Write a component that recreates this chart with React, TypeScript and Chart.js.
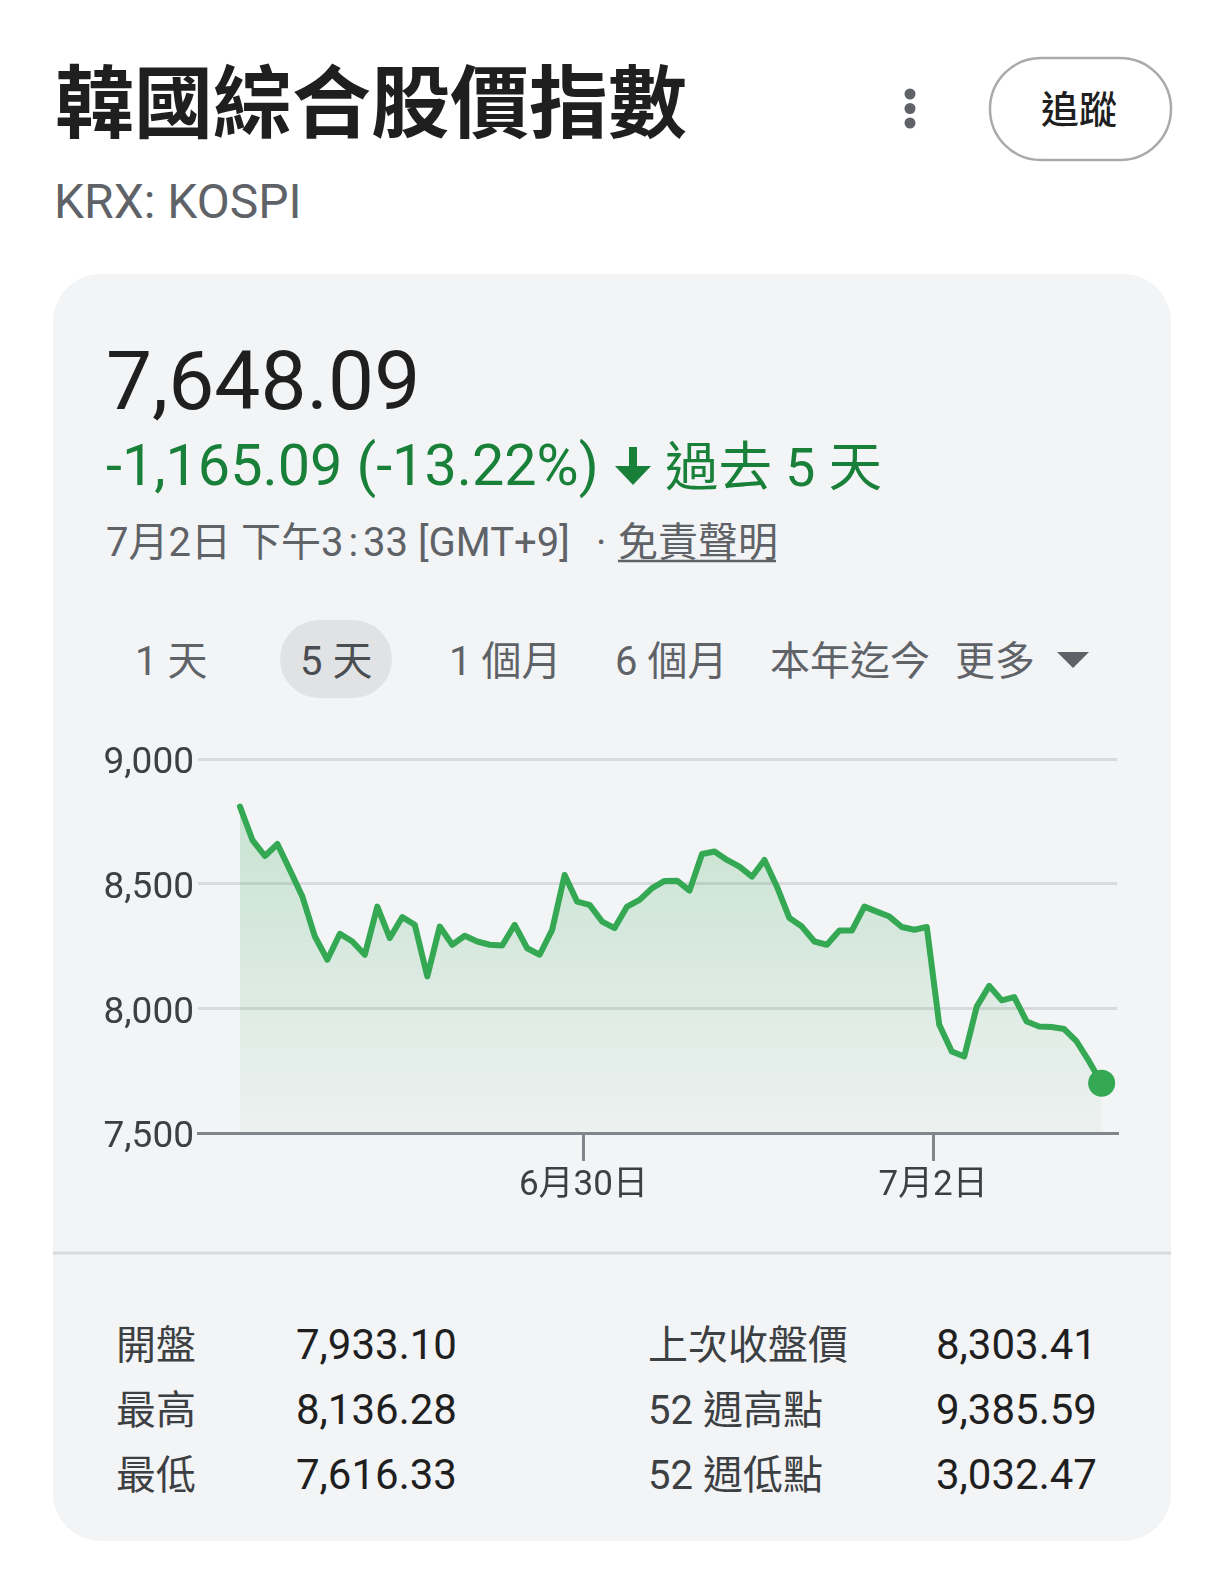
import React, { useEffect, useRef } from 'react';
import { Chart, registerables } from 'chart.js';

Chart.register(...registerables);

// ---- data ----
const TITLE = '韓國綜合股價指數';
const SYMBOL = 'KRX: KOSPI';
const FOLLOW_LABEL = '追蹤';
const PRICE = '7,648.09';
const CHANGE = '-1,165.09 (-13.22%)';
const CHANGE_PERIOD = '過去 5 天';
const TIME_DATE = '7月2日 下午3';
const TIME_MIN = '33 [GMT+9]';
const DISCLAIMER = '免責聲明';
const RANGE_TABS = ['1 天', '5 天', '1 個月', '6 個月', '本年迄今', '更多'];
const SELECTED_TAB = 1;

// 30-minute closes over five sessions (6/26, 6/29, 6/30, 7/1, 7/2)
const PRICES = [
  8809, 8675, 8611, 8659, 8555, 8448, 8288, 8195, 8299, 8268,
  8215, 8408, 8282, 8366, 8335, 8128, 8328, 8255, 8291, 8268,
  8255, 8252, 8335, 8241, 8215, 8315, 8535, 8428, 8415, 8348,
  8322, 8408, 8435, 8482, 8511, 8512, 8472, 8619, 8629, 8595,
  8568, 8528, 8595, 8488, 8362, 8328, 8268, 8255, 8312, 8312,
  8408, 8388, 8368, 8326, 8315, 8326, 7934, 7827, 7807, 8007,
  8090, 8032, 8045, 7947, 7927, 7925, 7917, 7867, 7787, 7700,
];
const X_TICK_POS = [27.5, 55.5];
const X_TICK_LABELS = ['6月30日', '7月2日'];
const Y_MIN = 7500;
const Y_MAX = 9000;
const Y_STEP = 500;

const STAT_LABELS_LEFT = ['開盤', '最高', '最低'];
const STAT_VALUES_LEFT = ['7,933.10', '8,136.28', '7,616.33'];
const STAT_LABELS_RIGHT = ['上次收盤價', '52 週高點', '52 週低點'];
const STAT_VALUES_RIGHT = ['8,303.41', '9,385.59', '3,032.47'];

// ---- styling ----
const FONT = "Roboto, 'Noto Sans CJK TC', sans-serif";
const CJK = "'Noto Sans CJK TC', Roboto, sans-serif";
const GREEN_LINE = '#34a853';
const GREEN_TEXT = '#188038';
const X_MIN = -3.36;
const X_MAX = 70.23;

const TAB_X = [135, 300, 449, 615, 770, 955];
const STAT_BASELINES = [1359, 1424, 1489];

export default function App() {
  const ref = useRef<HTMLCanvasElement>(null);

  useEffect(() => {
    const canvas = ref.current;
    if (!canvas) return;
    const ctx = canvas.getContext('2d');
    if (!ctx) return;
    const last = PRICES.length - 1;
    const chart = new Chart(ctx, {
      type: 'line',
      data: {
        datasets: [
          {
            data: PRICES.map((y, i) => ({ x: i, y })),
            borderColor: GREEN_LINE,
            borderWidth: 6,
            borderJoinStyle: 'round',
            borderCapStyle: 'round',
            tension: 0,
            fill: 'start',
            clip: 20,
            backgroundColor: (c: any) => {
              const area = c.chart.chartArea;
              if (!area) return 'rgba(52,168,83,0.1)';
              const g = c.chart.ctx.createLinearGradient(0, area.top, 0, area.bottom);
              g.addColorStop(0, 'rgba(52,168,83,0.25)');
              g.addColorStop(1, 'rgba(52,168,83,0.03)');
              return g;
            },
            pointRadius: (c: any) => (c.dataIndex === last ? 13.5 : 0),
            pointHoverRadius: 0,
            pointBackgroundColor: GREEN_LINE,
            pointBorderWidth: 0,
          } as any,
        ],
      },
      options: {
        animation: false,
        responsive: false,
        devicePixelRatio: 1,
        layout: { padding: { top: 39, right: 43, left: 0, bottom: 0 } },
        plugins: { legend: { display: false }, tooltip: { enabled: false } },
        scales: {
          x: {
            type: 'linear',
            min: X_MIN,
            max: X_MAX,
            afterBuildTicks: (s: any) => {
              s.ticks = X_TICK_POS.map((v) => ({ value: v }));
            },
            afterFit: (s: any) => {
              s.height = 87;
            },
            ticks: {
              callback: (_v: any, i: number) => X_TICK_LABELS[i],
              font: { family: FONT, size: 35 },
              color: '#3c4043',
              padding: 4,
              maxRotation: 0,
              autoSkip: false,
            },
            grid: {
              drawOnChartArea: false,
              drawTicks: true,
              tickLength: 28,
              color: '#80868b',
              lineWidth: 3,
            },
            border: { display: true, color: '#80868b', width: 3 },
          },
          y: {
            min: Y_MIN,
            max: Y_MAX,
            afterFit: (s: any) => {
              s.width = 138;
            },
            ticks: {
              stepSize: Y_STEP,
              // empty first line nudges the label down so digits sit centred on the grid line
              callback: (v: any) => ['', Number(v).toLocaleString('en-US')],
              font: { family: FONT, size: 37, lineHeight: 0.27 },
              color: '#3c4043',
              padding: 4,
            },
            grid: {
              color: (c: any) => (c.tick && c.tick.value === Y_MIN ? 'rgba(0,0,0,0)' : '#d9dadc'),
              lineWidth: 3,
              drawTicks: false,
            },
            border: { display: false },
          },
        },
      } as any,
    });
    return () => chart.destroy();
  }, []);

  return (
    <div style={{ position: 'absolute', left: 0, top: 0, width: 1224, height: 1575, overflow: 'hidden', background: '#fff' }}>
      <svg width={1224} height={1575} style={{ position: 'absolute', left: 0, top: 0 }}>
        <rect x={0} y={0} width={1224} height={1575} fill="#ffffff" />
        {/* header */}
        <text x={55} y={132} fontSize={79} fontWeight={700} fill="#1f1f1f" fontFamily={CJK}>{TITLE}</text>
        <text x={54} y={218} fontSize={48} fill="#5f6368" fontFamily={FONT}>{SYMBOL}</text>
        <circle cx={910} cy={94} r={5.5} fill="#5f6368" />
        <circle cx={910} cy={108.5} r={5.5} fill="#5f6368" />
        <circle cx={910} cy={123} r={5.5} fill="#5f6368" />
        <rect x={990} y={58} width={181} height={102} rx={51} fill="#ffffff" stroke="#a8abae" strokeWidth={2.5} />
        <text x={1079} y={123} fontSize={38} fontWeight={500} fill="#1f1f1f" textAnchor="middle" fontFamily={CJK}>{FOLLOW_LABEL}</text>

        {/* card */}
        <rect x={53} y={274} width={1118} height={1267} rx={48} fill="#f3f4f6" />
        <line x1={53} x2={1171} y1={1253} y2={1253} stroke="#d9dadc" strokeWidth={3} />

        <text x={106} y={409} fontSize={82} fill="#1f1f1f" fontFamily={FONT}>{PRICE}</text>
        <text x={106} y={485} fontSize={57.5} fill={GREEN_TEXT} fontFamily={FONT}>{CHANGE}</text>
        <path d="M629,447 L637,447 L637,466 L651,466 L633,485 L615,466 L629,466 Z" fill={GREEN_TEXT} />
        <text x={665} y={486} fontSize={53.5} fill={GREEN_TEXT} fontFamily={FONT}>{CHANGE_PERIOD}</text>

        <text x={106} y={556} fontSize={40} fill="#5f6368" fontFamily={FONT}>
          {TIME_DATE}
          <tspan dx={5}>:</tspan>
          <tspan dx={5}>{TIME_MIN}</tspan>
        </text>
        <text x={596} y={556} fontSize={40} fill="#5f6368" fontFamily={FONT}>·</text>
        <text x={618} y={556} fontSize={40} fill="#5f6368" fontFamily={CJK}>{DISCLAIMER}</text>
        <line x1={618} x2={776} y1={561} y2={561} stroke="#5f6368" strokeWidth={2.5} />

        {/* range tabs */}
        <rect x={280} y={620} width={112} height={78} rx={39} fill="#e1e2e4" />
        {RANGE_TABS.map((t, i) => (
          <text key={t} x={TAB_X[i]} y={675} fontSize={40} fill={i === SELECTED_TAB ? '#4a4d51' : '#5f6368'} fontFamily={FONT}>{t}</text>
        ))}
        <path d="M1057,652 L1089,652 L1073,668 Z" fill="#5f6368" />

        {/* stats */}
        {STAT_LABELS_LEFT.map((t, i) => (
          <text key={'ll' + i} x={116} y={STAT_BASELINES[i]} fontSize={40} fill="#3c4043" fontFamily={FONT}>{t}</text>
        ))}
        {STAT_VALUES_LEFT.map((t, i) => (
          <text key={'lv' + i} x={296} y={STAT_BASELINES[i]} fontSize={42} fill="#1f1f1f" fontFamily={FONT}>{t}</text>
        ))}
        {STAT_LABELS_RIGHT.map((t, i) => (
          <text key={'rl' + i} x={648} y={STAT_BASELINES[i]} fontSize={40} fill="#3c4043" fontFamily={FONT}>{t}</text>
        ))}
        {STAT_VALUES_RIGHT.map((t, i) => (
          <text key={'rv' + i} x={936} y={STAT_BASELINES[i]} fontSize={42} fill="#1f1f1f" fontFamily={FONT}>{t}</text>
        ))}
      </svg>
      <canvas
        ref={ref}
        width={1100}
        height={500}
        style={{ position: 'absolute', left: 60, top: 720, width: 1100, height: 500 }}
      />
    </div>
  );
}
